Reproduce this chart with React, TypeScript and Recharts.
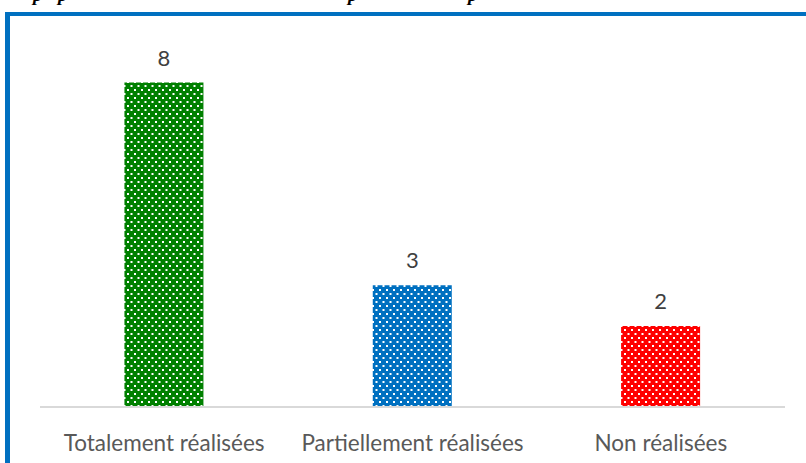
import React from 'react';
import { BarChart, Bar, XAxis, YAxis, Cell, LabelList } from 'recharts';

const categories = ['Totalement réalisées', 'Partiellement réalisées', 'Non réalisées'];
const counts = [8, 3, 2];
const barColors = ['#008000', '#0070C0', '#FF0000'];

const data = categories.map((name, i) => ({ name, value: counts[i] }));

const font = 'Lato, "Noto Sans", sans-serif';

export default function App() {
  return (
    <div
      style={{
        position: 'fixed',
        left: 0,
        top: 0,
        width: 806,
        height: 463,
        background: '#fff',
        overflow: 'hidden',
      }}
    >
      {/* bottom of the cut-off caption above the frame */}
      <div
        style={{
          position: 'absolute',
          left: 0,
          top: 0,
          width: 806,
          height: 5,
          overflow: 'hidden',
        }}
      >
        {[33, 58, 348, 468].map((x) => (
          <span
            key={x}
            style={{
              position: 'absolute',
              left: x,
              top: -16,
              fontFamily: '"Liberation Serif", serif',
              fontStyle: 'italic',
              fontWeight: 'bold',
              fontSize: 19,
              color: '#000',
            }}
          >
            p
          </span>
        ))}
      </div>
      <div
        style={{
          position: 'absolute',
          left: 5,
          top: 12,
          width: 820,
          height: 480,
          borderLeft: '5px solid #0070C0',
          borderTop: '4px solid #0070C0',
        }}
      />
      <div style={{ position: 'absolute', left: 0, top: 0 }}>
        <BarChart
          width={806}
          height={463}
          data={data}
          margin={{ top: 42, right: 21, left: 40, bottom: 26 }}
          barCategoryGap="34%"
        >
          <defs>
            {barColors.map((c, i) => (
              <pattern
                key={c}
                id={`dots${i}`}
                patternUnits="userSpaceOnUse"
                width={7}
                height={8}
              >
                <rect width={7} height={8} fill={c} />
                <rect x={1} y={1} width={2} height={2} fill="#fff" />
                <rect x={4.5} y={5} width={2} height={2} fill="#fff" />
              </pattern>
            ))}
          </defs>
          <XAxis
            dataKey="name"
            height={30}
            axisLine={{ stroke: '#d9d9d9', strokeWidth: 2 }}
            tickLine={false}
            tickMargin={22}
            tick={{ fill: '#595959', fontSize: 22.5, fontFamily: font }}
            interval={0}
          />
          <YAxis hide domain={[0, 9]} />
          <Bar dataKey="value" isAnimationActive={false}>
            {data.map((d, i) => (
              <Cell key={d.name} fill={`url(#dots${i})`} />
            ))}
            <LabelList
              dataKey="value"
              position="top"
              offset={17}
              fill="#404040"
              fontSize={22}
              fontFamily={font}
            />
          </Bar>
        </BarChart>
      </div>
    </div>
  );
}
